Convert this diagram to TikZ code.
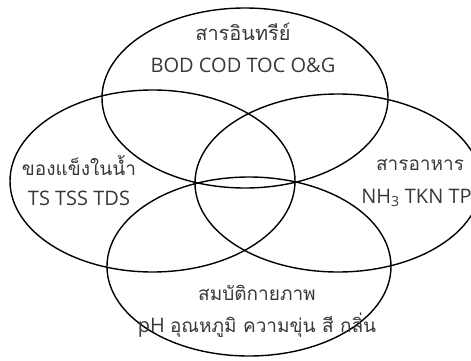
\documentclass[tikz,border=0pt]{standalone}
\usepackage{fontspec}
\setmainfont{Open Sans}
\newfontfamily\thai[Script=Thai,Scale=0.95]{Loma}
\begin{document}
\begin{tikzpicture}[x=1pt,y=1pt,
  ring/.style={draw=black,line width=1.4pt},
  lbl/.style={text=black!78,font=\fontsize{20}{24}\selectfont,inner sep=0pt,anchor=center}]
\useasboundingbox (0,0) rectangle (471,360);
\clip (0,0) rectangle (471,360);
\draw[ring] (245,262) ellipse [x radius=143, y radius=90];
\draw[ring] (152.5,179) ellipse [x radius=142.5, y radius=91];
\draw[ring] (338,177) ellipse [x radius=143, y radius=89];
\draw[ring] (249,93.5) ellipse [x radius=142, y radius=89.5];
\node[lbl] (t1) at (243,328) {\fontsize{21}{24}\selectfont\thai สารอินทรีย์};
\node[lbl] (t2) at (243,295) {BOD COD TOC O\&G};
\node[lbl] (l1) at (79,195) {\thai ของแข็งในน้ำ};
\node[lbl] (l2) at (79,162) {TS TSS TDS};
\node[lbl] (r1) at (420,195) {\thai สารอาหาร};
\node[lbl] (r2) at (416.5,162) {NH\textsubscript{3} TKN TP};
\node[lbl] (b1) at (257,67) {\thai สมบัติกายภาพ};
\node[lbl] (b2) at (257,35) {pH {\thai อุณหภูมิ ความขุ่น สี กลิ่น}};
\end{tikzpicture}
\end{document}
